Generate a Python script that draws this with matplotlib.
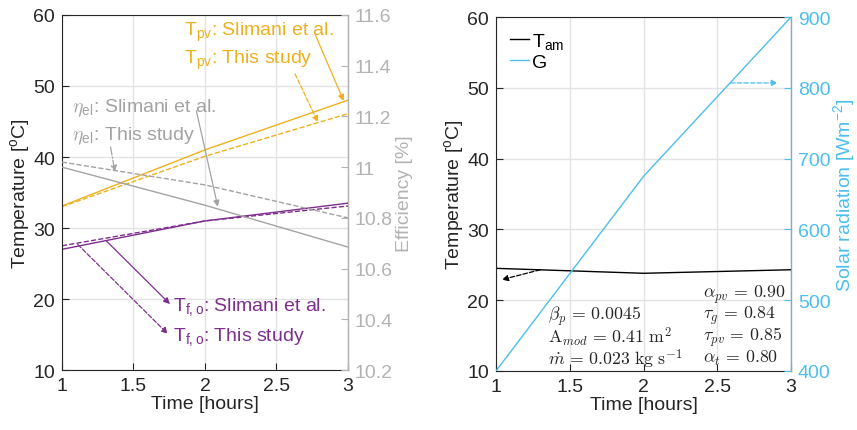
import matplotlib
matplotlib.use("Agg")
import matplotlib.pyplot as plt

plt.rcParams['font.family'] = ['Liberation Sans', 'DejaVu Sans']
plt.rcParams['mathtext.fontset'] = 'cm'

FS = 14
FS_MATH = 12.8

# time axis (hours)
hours = [1, 2, 3]

# left panel: temperatures [C]
tpv_slimani = [33.1, 41.0, 48.0]
tpv_study = [33.0, 40.1, 46.1]
tfo_slimani = [27.0, 31.0, 33.5]
tfo_study = [27.5, 31.0, 33.1]
# left panel: electrical efficiency [%]
eta_slimani = [11.00, 10.85, 10.685]
eta_study = [11.02, 10.93, 10.80]

# right panel
t_am = [24.5, 23.8, 24.3]
g_rad = [400, 675, 900]

x_ticks = [1, 1.5, 2, 2.5, 3]
x_ticklabels = ['1', '1.5', '2', '2.5', '3']
temp_ticks = [10, 20, 30, 40, 50, 60]
eff_ticks = [10.2, 10.4, 10.6, 10.8, 11.0, 11.2, 11.4, 11.6]
eff_ticklabels = ['10.2', '10.4', '10.6', '10.8', '11', '11.2', '11.4', '11.6']
rad_ticks = [400, 500, 600, 700, 800, 900]

ORANGE = '#EDB120'
PURPLE = '#7E2F8E'
GRAY = '#A3A3A3'
GRAY_AX = '#B3B3B3'
BLUE = '#4DBEEE'
DARK = '#262626'

fig = plt.figure(figsize=(8.57, 4.31), dpi=100)
ax1 = fig.add_axes([0.0723, 0.139, 0.3337, 0.824])
ax3 = fig.add_axes([0.5788, 0.137, 0.3442, 0.821])


def style_left(ax):
    ax.set_xlim(1, 3)
    ax.set_ylim(10, 60)
    ax.set_xticks(x_ticks)
    ax.set_xticklabels(x_ticklabels)
    ax.set_yticks(temp_ticks)
    ax.grid(True, color='#E3E3E3', lw=1.0)
    ax.set_axisbelow(True)
    ax.tick_params(direction='in', length=5, colors=DARK, labelsize=FS, pad=5)
    for s in ['left', 'bottom', 'top']:
        ax.spines[s].set_color(DARK)
        ax.spines[s].set_linewidth(0.8)
    ax.set_xlabel('Time [hours]', color=DARK, fontsize=FS, labelpad=1)
    ax.set_ylabel(r'Temperature [$\mathregular{^o}$C]', color=DARK, fontsize=FS, labelpad=1)


def arrow(ax, start, end, color, ls='-'):
    ax.annotate('', xy=end, xytext=start,
                arrowprops=dict(arrowstyle='-|>', color=color, lw=0.9, ls=ls,
                                mutation_scale=9, shrinkA=0, shrinkB=0))


# ---- left panel ----
style_left(ax1)
ax1.plot(hours, tpv_slimani, color=ORANGE, lw=1.0)
ax1.plot(hours, tpv_study, color=ORANGE, lw=1.0, ls='--')
ax1.plot(hours, tfo_slimani, color=PURPLE, lw=1.0)
ax1.plot(hours, tfo_study, color=PURPLE, lw=1.0, ls='--')

ax2 = ax1.twinx()
ax2.plot(hours, eta_slimani, color=GRAY, lw=1.0)
ax2.plot(hours, eta_study, color=GRAY, lw=1.0, ls='--')
ax2.set_ylim(10.2, 11.6)
ax2.set_yticks(eff_ticks)
ax2.set_yticklabels(eff_ticklabels)
ax2.tick_params(direction='in', length=5, colors=GRAY_AX, labelsize=FS, pad=5)
ax2.spines['right'].set_color(GRAY_AX)
ax2.spines['right'].set_linewidth(0.8)
for s in ['left', 'bottom', 'top']:
    ax2.spines[s].set_visible(False)
ax2.set_ylabel('Efficiency [%]', color=GRAY_AX, fontsize=FS, labelpad=2)

ax1.text(1.85, 57.7, r'$\mathregular{T_{pv}}$: Slimani et al.', color=ORANGE, va='center', fontsize=FS)
ax1.text(1.85, 53.8, r'$\mathregular{T_{pv}}$: This study', color=ORANGE, va='center', fontsize=FS)
ax1.text(1.07, 47.0, r'$\eta_{\mathregular{el}}$: Slimani et al.', color=GRAY, va='center', fontsize=FS)
ax1.text(1.07, 43.0, r'$\eta_{\mathregular{el}}$: This study', color=GRAY, va='center', fontsize=FS)
ax1.text(1.78, 19.0, r'$\mathregular{T_{f,o}}$: Slimani et al.', color=PURPLE, va='center', fontsize=FS)
ax1.text(1.78, 14.8, r'$\mathregular{T_{f,o}}$: This study', color=PURPLE, va='center', fontsize=FS)

arrow(ax1, (2.77, 57.3), (2.97, 47.9), ORANGE)
arrow(ax1, (2.63, 51.7), (2.79, 44.9), ORANGE, '--')
arrow(ax1, (1.94, 46.5), (2.09, 33.0), GRAY)
arrow(ax1, (1.34, 41.4), (1.37, 37.9), GRAY, '-.')
arrow(ax1, (1.31, 28.2), (1.755, 19.3), PURPLE)
arrow(ax1, (1.11, 27.7), (1.74, 15.1), PURPLE, '--')

# ---- right panel ----
style_left(ax3)
ln1, = ax3.plot(hours, t_am, color='black', lw=1.0, label=r'$\mathregular{T_{am}}$')
ax4 = ax3.twinx()
ln2, = ax4.plot(hours, g_rad, color=BLUE, lw=1.0, label='G')
ax4.set_ylim(400, 900)
ax4.set_yticks(rad_ticks)
ax4.tick_params(direction='in', length=5, colors=BLUE, labelsize=FS, pad=5)
ax4.spines['right'].set_color(BLUE)
ax4.spines['right'].set_linewidth(0.8)
for s in ['left', 'bottom', 'top']:
    ax4.spines[s].set_visible(False)
ax4.set_ylabel(r'Solar radiation [Wm$\mathregular{^{-2}}$]', color=BLUE, fontsize=FS, labelpad=0)

leg = ax3.legend(handles=[ln1, ln2], loc='upper left', frameon=False, fontsize=FS,
                 handlelength=1.0, handletextpad=0.15, borderaxespad=0.3, labelspacing=0.15)

arrow(ax3, (1.30, 24.3), (1.04, 22.9), 'black', '--')
arrow(ax4, (2.59, 807), (2.91, 807), BLUE, '--')

left_block = [r'$\beta_p\, =\, 0.0045$',
              r'$\mathrm{A}_{mod}\, =\, 0.41\ \mathrm{m}^2$',
              r'$\dot{m}\, =\, 0.023\ \mathrm{kg\ s}^{-1}$']
right_block = [r'$\alpha_{pv}\, =\, 0.90$',
               r'$\tau_g\, =\, 0.84$',
               r'$\tau_{pv}\, =\, 0.85$',
               r'$\alpha_t\, =\, 0.80$']
for i, s in enumerate(left_block):
    ax3.text(1.35, 17.9 - 3.05 * i, s, color=DARK, va='center', fontsize=FS_MATH)
for i, s in enumerate(right_block):
    ax3.text(2.40, 20.9 - 3.0 * i, s, color=DARK, va='center', fontsize=FS_MATH)

fig.savefig('out.png', dpi=100)
